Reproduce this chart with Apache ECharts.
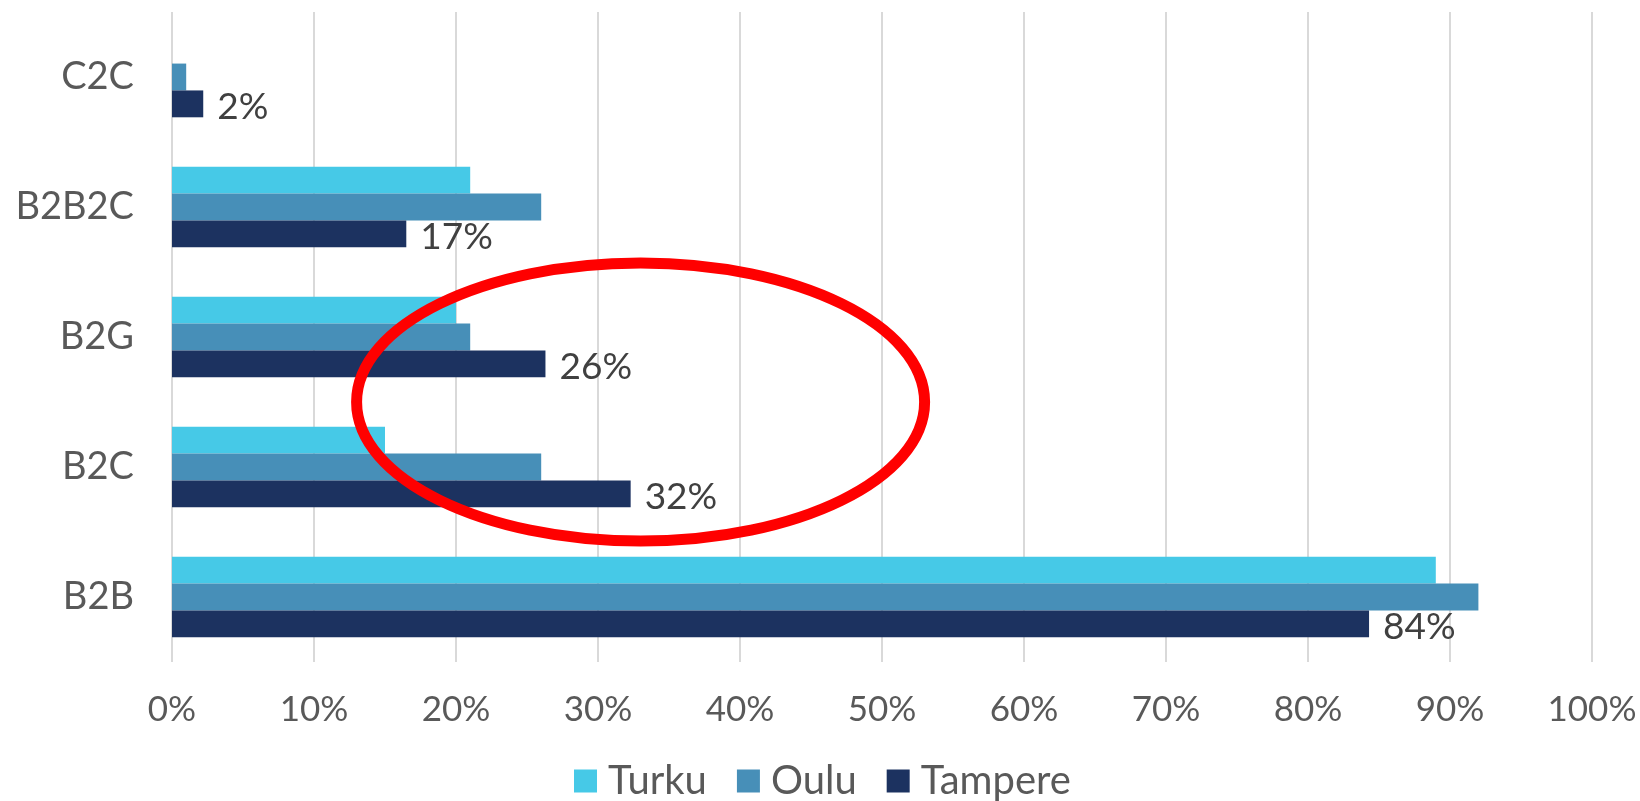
<!DOCTYPE html>
<html>
<head>
<meta charset="utf-8">
<script src="https://cdn.jsdelivr.net/npm/echarts@6/dist/echarts.min.js"></script>
<style>
  html, body { margin: 0; padding: 0; background: #ffffff; }
  #chart { width: 1640px; height: 801px; }
</style>
</head>
<body>
<div id="chart"></div>
<script>
// Categories bottom-to-top (ECharts category y axis starts at the bottom)
const categories = ['B2B', 'B2C', 'B2G', 'B2B2C', 'C2C'];
const turku   = [89, 15, 20, 21, 0];
const oulu    = [92, 26, 21, 26, 1];
const tampere = [84.3, 32.3, 26.3, 16.5, 2.2];
const xTicks  = [0, 10, 20, 30, 40, 50, 60, 70, 80, 90, 100];
const seriesNames = ['Turku', 'Oulu', 'Tampere'];
const colors = ['#46C9E7', '#478FB8', '#1C3260'];

const FONT = 'Lato';
const TXT = '#595959';

const chart = echarts.init(document.getElementById('chart'));

const option = {
  animation: false,
  backgroundColor: '#ffffff',
  grid: { left: 172, right: 48, top: 12, bottom: 139, containLabel: false },
  legend: {
    data: seriesNames,
    left: 569,
    top: 756,
    itemWidth: 23,
    itemHeight: 23,
    itemGap: 30,
    icon: 'rect',
    textStyle: { fontFamily: FONT, fontSize: 40, color: TXT, padding: [0, 0, 0, 6] }
  },
  xAxis: {
    type: 'value',
    min: xTicks[0],
    max: xTicks[xTicks.length - 1],
    interval: 10,
    axisLine: { show: false },
    axisTick: { show: false },
    splitLine: { show: true, lineStyle: { color: '#D9D9D9', width: 2 } },
    axisLabel: {
      margin: 30,
      fontFamily: FONT, fontSize: 35, color: TXT,
      formatter: v => v + '%'
    }
  },
  yAxis: {
    type: 'category',
    data: categories,
    axisLine: { show: false },
    axisTick: { show: false },
    axisLabel: { margin: 38, fontFamily: FONT, fontSize: 38, color: TXT }
  },
  series: [
    { name: 'Turku', type: 'bar', data: turku, barGap: '0%', barCategoryGap: '38%', itemStyle: { color: colors[0] } },
    { name: 'Oulu', type: 'bar', data: oulu, barGap: '0%', barCategoryGap: '38%', itemStyle: { color: colors[1] } },
    {
      name: 'Tampere', type: 'bar', data: tampere,
      barGap: '0%', barCategoryGap: '38%',
      itemStyle: { color: colors[2] },
      label: {
        show: true, position: 'right', distance: 14, offset: [0, 3],
        fontFamily: FONT, fontSize: 37, color: '#404040',
        formatter: p => Math.round(p.value) + '%'
      }
    }
  ]
};
chart.setOption(option);

// Red annotation ellipse placed through the axes' own scales
const l = chart.convertToPixel({ gridIndex: 0 }, [13, 'B2G']);
const r = chart.convertToPixel({ gridIndex: 0 }, [53, 'B2G']);
const yB2G = chart.convertToPixel({ yAxisIndex: 0 }, 'B2G');
const yB2C = chart.convertToPixel({ yAxisIndex: 0 }, 'B2C');
const band = Math.abs(yB2C - yB2G);
chart.setOption({
  graphic: [{
    type: 'ellipse',
    shape: {
      cx: (l[0] + r[0]) / 2,
      cy: (yB2G + yB2C) / 2,
      rx: (r[0] - l[0]) / 2,
      ry: band * 1.07
    },
    style: { fill: 'none', stroke: '#FF0000', lineWidth: 11 },
    z: 100
  }]
});
</script>
</body>
</html>
